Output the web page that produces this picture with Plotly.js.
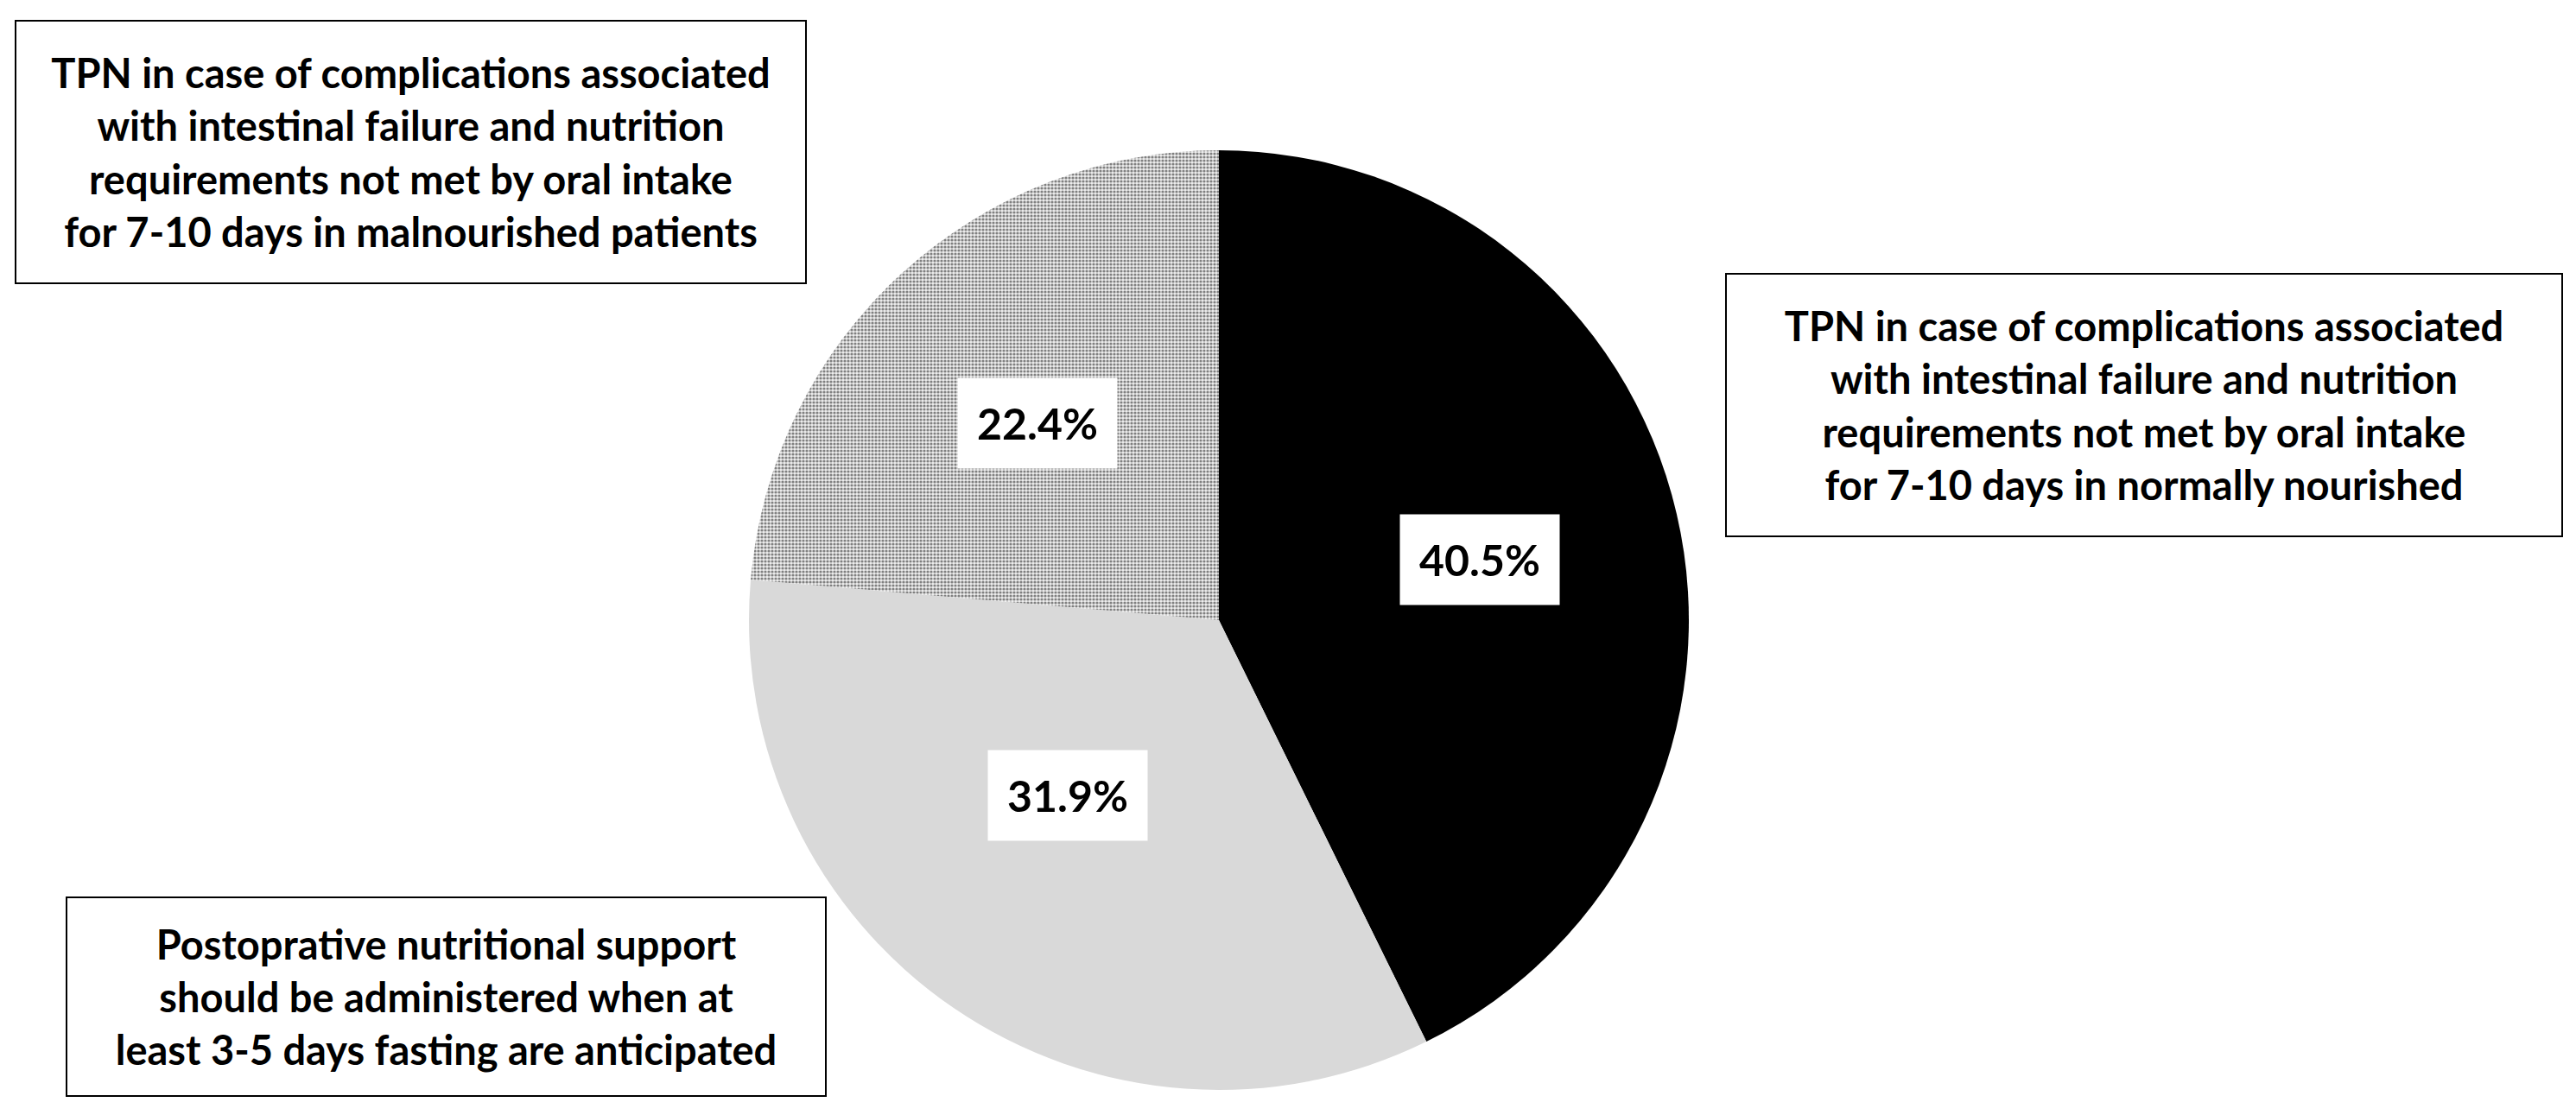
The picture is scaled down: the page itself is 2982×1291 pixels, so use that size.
<!DOCTYPE html>
<html>
<head>
<meta charset="utf-8">
<script src="https://cdn.plot.ly/plotly-3.0.1.min.js"></script>
<style>
  html, body { margin: 0; padding: 0; background: #fff; }
  #chart { width: 2982px; height: 1291px; }
</style>
</head>
<body>
<div id="chart"></div>
<script>
// données
const sliceLabels = [
    'TPN normally nourished',
    'Postoperative support',
    'TPN malnourished'
];
const sliceValues = [40.5, 31.9, 22.4];
const sliceColors = ['#000000', '#d9d9d9', '#cfcfcf'];
const slicePatterns = ['', '', '.'];

const boxTexts = [
    'TPN in case of complications associated<br>with intestinal failure and nutrition<br>requirements not met by oral intake<br>for 7-10 days in malnourished patients',
    'TPN in case of complications associated<br>with intestinal failure and nutrition<br>requirements not met by oral intake<br>for 7-10 days in normally nourished',
    'Postoprative nutritional support<br>should be administered when at<br>least 3-5 days fasting are anticipated'
];

// géométrie (en pixels) de la page
const W = 2982, H = 1291;
const cxPx = 1411, cyPx = 718, R = 544;
const font = 'Lato, "Open Sans", sans-serif';

// étiquettes en pourcentage placées au milieu de chaque part
const total = sliceValues.reduce((a, b) => a + b, 0);
let cum = 0;
const pctAnnotations = sliceValues.map(v => {
    const f = (cum + v / 2) / total;
    cum += v;
    const th = Math.PI / 2 - 2 * Math.PI * f; // sens horaire depuis midi
    const d = 0.57 * R;
    return {
        xref: 'paper', yref: 'paper',
        x: (cxPx + d * Math.cos(th)) / W,
        y: (H - cyPx + d * Math.sin(th)) / H,
        text: v.toFixed(1) + '%',
        showarrow: false,
        bgcolor: '#ffffff',
        borderpad: 22,
        font: { family: font, size: 50, color: '#000', weight: 'bold' }
    };
});

// les trois encadrés de texte
const boxes = [
    { x0: 17, y0: 23, w: 917, h: 306 },
    { x0: 1997, y0: 316, w: 970, h: 306 },
    { x0: 76, y0: 1038, w: 881, h: 232 }
];
const boxAnnotations = boxes.map((b, i) => ({
    xref: 'paper', yref: 'paper',
    x: b.x0 / W, y: 1 - b.y0 / H,
    xanchor: 'left', yanchor: 'top',
    width: b.w - 4, height: b.h - 4,
    text: boxTexts[i],
    showarrow: false,
    align: 'center', valign: 'middle',
    bgcolor: '#ffffff',
    bordercolor: '#000000', borderwidth: 2, borderpad: 0,
    font: { family: font, size: 47, color: '#000', weight: 'bold' }
}));

const data = [{
    type: 'pie',
    labels: sliceLabels,
    values: sliceValues,
    sort: false,
    direction: 'clockwise',
    rotation: 0,
    textinfo: 'none',
    hoverinfo: 'label+value',
    marker: {
        colors: sliceColors,
        line: { width: 0 },
        pattern: {
            shape: slicePatterns,
            fgcolor: '#808080',
            bgcolor: '#eeeeee',
            size: 4,
            solidity: 0.5
        }
    },
    domain: {
        x: [(cxPx - R) / W, (cxPx + R) / W],
        y: [(H - cyPx - R) / H, (H - cyPx + R) / H]
    }
}];

const layout = {
    width: W,
    height: H,
    margin: { l: 0, r: 0, t: 0, b: 0 },
    paper_bgcolor: '#ffffff',
    showlegend: false,
    annotations: boxAnnotations.concat(pctAnnotations)
};

Plotly.newPlot('chart', data, layout, { staticPlot: true });
</script>
</body>
</html>
